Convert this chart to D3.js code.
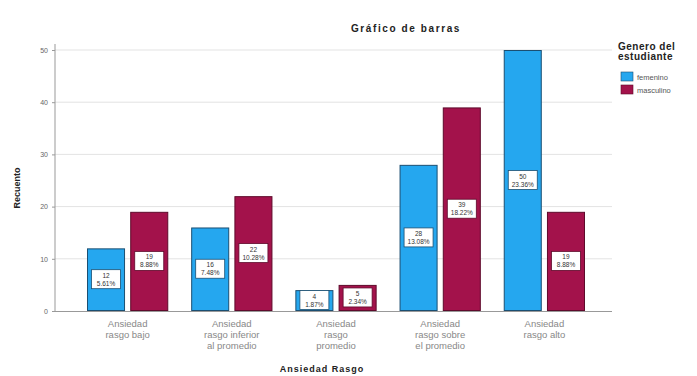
<!DOCTYPE html>
<html><head><meta charset="utf-8">
<script src="https://cdn.jsdelivr.net/npm/d3@7"></script>
<style>body{margin:0;background:#fff;}svg{display:block;font-family:"Liberation Sans",Arial,sans-serif;}</style>
</head><body><svg id="c" width="697" height="376"></svg>
<script>
const categories = [
  ["Ansiedad","rasgo bajo"],
  ["Ansiedad","rasgo inferior","al promedio"],
  ["Ansiedad","rasgo","promedio"],
  ["Ansiedad","rasgo sobre","el promedio"],
  ["Ansiedad","rasgo alto"]
];
const seriesNames = ["femenino","masculino"];
const femenino = [12,16,4,28,50];
const masculino = [19,22,5,39,19];
const femPct = ["5.61%","7.48%","1.87%","13.08%","23.36%"];
const mascPct = ["8.88%","10.28%","2.34%","18.22%","8.88%"];
const yTicks = [0,10,20,30,40,50];

const colors = {femenino:"#25a7ef", masculino:"#a3124b"};
const strokes = {femenino:"#1b4f72", masculino:"#5e0a2b"};

const svg = d3.select("#c");
const y = d3.scaleLinear().domain([0,50]).range([311,50]);
const x0 = d3.scaleBand().domain(d3.range(categories.length)).range([87,585]).paddingInner(0.22).paddingOuter(0);
const x1 = d3.scaleBand().domain(seriesNames).range([0,x0.bandwidth()]).paddingInner(0.12);

// grid
svg.append("g").selectAll("line").data(yTicks.filter(d=>d>0)).join("line")
  .attr("x1",55).attr("x2",612).attr("y1",d=>y(d)).attr("y2",d=>y(d))
  .attr("stroke","#e3e3e3").attr("stroke-width",1);

// y axis
const ya = svg.append("g").attr("transform","translate(55,0)").call(d3.axisLeft(y).tickValues(yTicks).tickSize(3).tickPadding(4).tickFormat(d3.format("d")));
ya.select(".domain").attr("stroke","#999").attr("d","M0,"+(y(50)-6)+"V"+y(0));
ya.selectAll(".tick line").attr("stroke","#999");
ya.selectAll("text").attr("font-size",7).attr("fill","#666");

// x axis line
svg.append("line").attr("x1",55).attr("x2",612).attr("y1",y(0)+0.5).attr("y2",y(0)+0.5).attr("stroke","#999");

const data = categories.map((c,i)=>({i, vals:[
  {s:"femenino", v:femenino[i], p:femPct[i]},
  {s:"masculino", v:masculino[i], p:mascPct[i]}]}));

const g = svg.append("g").selectAll("g").data(data).join("g").attr("transform",d=>`translate(${x0(d.i)},0)`);
g.selectAll("rect").data(d=>d.vals).join("rect")
  .attr("x",d=>x1(d.s)+0.5).attr("y",d=>y(d.v)+0.5)
  .attr("width",x1.bandwidth()-1).attr("height",d=>y(0)-y(d.v)-1)
  .attr("fill",d=>colors[d.s]).attr("stroke",d=>strokes[d.s]).attr("stroke-width",1);

// labels
const lab = g.selectAll("g.lab").data(d=>d.vals).join("g").attr("class","lab")
  .attr("transform",d=>`translate(${x1(d.s)+x1.bandwidth()/2},${(y(d.v)+y(0))/2})`);
lab.append("rect").attr("x",-14.5).attr("y",-10).attr("width",29).attr("height",19)
  .attr("fill","#fff").attr("stroke",d=>strokes[d.s]).attr("stroke-width",0.8);
lab.append("text").attr("text-anchor","middle").attr("y",-2).attr("font-size",6.5).attr("fill","#333").text(d=>d.v);
lab.append("text").attr("text-anchor","middle").attr("y",6).attr("font-size",6.5).attr("fill","#333").text(d=>d.p);

// x tick labels
const xl = svg.append("g").selectAll("text").data(categories).join("text")
  .attr("text-anchor","middle").attr("font-size",9.5).attr("fill","#888")
  .attr("x",(d,i)=>x0(i)+x0.bandwidth()/2).attr("y",327);
xl.selectAll("tspan").data(d=>d).join("tspan")
  .attr("x",function(){return this.parentNode.getAttribute("x");})
  .attr("dy",(d,i)=>i===0?0:11).text(d=>d);

// titles
svg.append("text").attr("x",406).attr("y",32).attr("text-anchor","middle").attr("font-size",10).attr("font-weight","bold").attr("letter-spacing",1.6).attr("fill","#222").text("Gráfico de barras");
svg.append("text").attr("x",322).attr("y",372).attr("text-anchor","middle").attr("font-size",9).attr("font-weight","bold").attr("letter-spacing",1).attr("fill","#222").text("Ansiedad Rasgo");
svg.append("text").attr("transform","translate(20,188) rotate(-90)").attr("text-anchor","middle").attr("font-size",9).attr("font-weight","bold").attr("fill","#222").text("Recuento");

// legend
const lg = svg.append("g");
lg.append("text").attr("x",618).attr("y",50).attr("font-size",10).attr("font-weight","bold").attr("letter-spacing",0.5).attr("fill","#222").text("Genero del");
lg.append("text").attr("x",618).attr("y",60).attr("font-size",10).attr("font-weight","bold").attr("letter-spacing",0.5).attr("fill","#222").text("estudiante");
const li = lg.selectAll("g.li").data(seriesNames).join("g").attr("class","li").attr("transform",(d,i)=>`translate(621,${72+i*13})`);
li.append("rect").attr("width",12).attr("height",9).attr("fill",d=>colors[d]).attr("stroke",d=>strokes[d]).attr("stroke-width",0.6);
li.append("text").attr("x",16).attr("y",8).attr("font-size",7.5).attr("fill","#555").text(d=>d);
</script></body></html>
